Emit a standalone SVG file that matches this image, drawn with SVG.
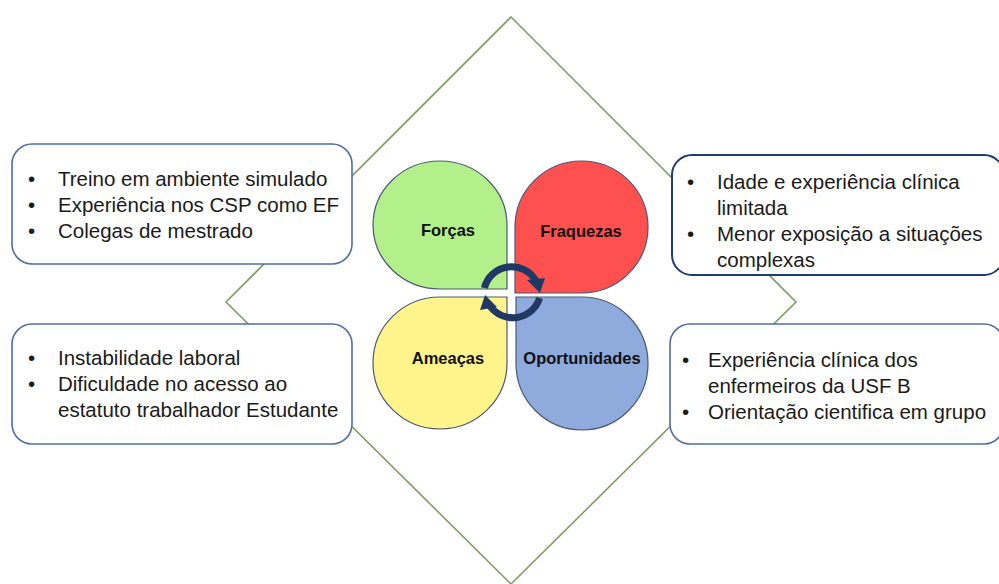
<svg xmlns="http://www.w3.org/2000/svg" width="999" height="584" viewBox="0 0 999 584">
<style>
.box{fill:#fff;stroke:#4F6EA5;stroke-width:1.6}
.boxd{fill:#fff;stroke:#203B7A;stroke-width:2}
.t{font-family:"Liberation Sans",Arial,sans-serif;font-size:20.5px;fill:#1a1a1a}
.lbl{font-family:"Liberation Sans",Arial,sans-serif;font-size:16.5px;font-weight:bold;fill:#111;text-anchor:middle}
.petal{stroke:#4A5A72;stroke-width:1.2}
.arc{fill:none;stroke:#1F3864;stroke-width:7}
.head{fill:#1F3864}
</style>
<rect width="999" height="584" fill="#fff"/>
<g id="connectors">
<polygon points="511,17 796,302 511,584 226,302" fill="none" stroke="#7F9F62" stroke-width="1.6"/>
</g>
<g id="forcas">
<path class="petal" fill="#B3EF8A" d="M507,225 L507,289 L440,289 A67,64 0 0 1 373,225 A67,64 0 0 1 440,161 A67,64 0 0 1 507,225 Z"/>
<text class="lbl" x="448" y="236">Forças</text>
</g>
<g id="fraquezas">
<path class="petal" fill="#FF5050" d="M515,227 A66.5,66 0 0 1 581.5,161 A66.5,66 0 0 1 648,227 A66.5,66 0 0 1 581.5,293 L515,293 Z"/>
<text class="lbl" x="581" y="237">Fraquezas</text>
</g>
<g id="ameacas">
<path class="petal" fill="#FFF48C" d="M440,297 L507,297 L507,363 A67,66 0 0 1 440,429 A67,66 0 0 1 373,363 A67,66 0 0 1 440,297 Z"/>
<text class="lbl" x="448" y="364">Ameaças</text>
</g>
<g id="oportunidades">
<path class="petal" fill="#8FAADC" d="M516,297 L582,297 A66,66.5 0 0 1 648,363.5 A66,66.5 0 0 1 582,430 A66,66.5 0 0 1 516,363.5 Z"/>
<text class="lbl" x="582" y="364">Oportunidades</text>
</g>
<g id="cycle">
<path class="arc" d="M484.4,288 A28,28 0 0 1 536,281"/>
<polygon class="head" points="527,280 545,278 540,293"/>
<path class="arc" d="M539.6,298 A28,28 0 0 1 490,306"/>
<polygon class="head" points="497,307 480,310 485,295"/>
</g>
<g id="box-forcas">
<rect class="box" x="12" y="144" width="340" height="120" rx="20"/>
<text class="t" x="28" y="186">•</text><text class="t" x="58" y="186">Treino em ambiente simulado</text>
<text class="t" x="28" y="212">•</text><text class="t" x="58" y="212">Experiência nos CSP como EF</text>
<text class="t" x="28" y="238">•</text><text class="t" x="58" y="238">Colegas de mestrado</text>
</g>
<g id="box-fraquezas">
<rect class="boxd" x="672" y="155" width="332" height="120" rx="20"/>
<text class="t" x="687" y="189">•</text><text class="t" x="717" y="189">Idade e experiência clínica</text>
<text class="t" x="717" y="215">limitada</text>
<text class="t" x="687" y="241">•</text><text class="t" x="717" y="241">Menor exposição a situações</text>
<text class="t" x="717" y="267">complexas</text>
</g>
<g id="box-ameacas">
<rect class="box" x="12" y="324" width="340" height="120" rx="20"/>
<text class="t" x="28" y="365">•</text><text class="t" x="58" y="365">Instabilidade laboral</text>
<text class="t" x="28" y="391">•</text><text class="t" x="58" y="391">Dificuldade no acesso ao</text>
<text class="t" x="58" y="417">estatuto trabalhador Estudante</text>
</g>
<g id="box-oportunidades">
<rect class="box" x="670" y="324" width="334" height="120" rx="20"/>
<text class="t" x="682" y="367">•</text><text class="t" x="708" y="367">Experiência clínica dos</text>
<text class="t" x="708" y="393">enfermeiros da USF B</text>
<text class="t" x="682" y="419">•</text><text class="t" x="708" y="419">Orientação cientifica em grupo</text>
</g>
</svg>
